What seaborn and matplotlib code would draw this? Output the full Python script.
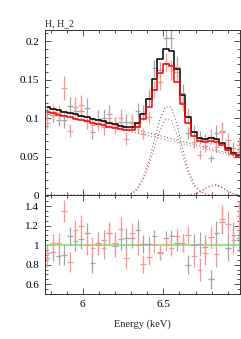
import numpy as np
import matplotlib
matplotlib.use("Agg")
import matplotlib.pyplot as plt
import seaborn as sns
from matplotlib.ticker import MultipleLocator, FormatStrFormatter

# bin centres (keV)
energy = [5.78, 5.815, 5.85, 5.885, 5.92, 5.955, 5.99, 6.025, 6.06, 6.095,
          6.13, 6.165, 6.2, 6.235, 6.27, 6.305, 6.34, 6.375, 6.41, 6.445,
          6.48, 6.515, 6.55, 6.585, 6.62, 6.655, 6.69, 6.725, 6.76, 6.795,
          6.83, 6.865, 6.9, 6.935, 6.97]
half_bin = 0.0175

# model components (counts/s/keV)
cont_black = [0.1140, 0.1122, 0.1104, 0.1085, 0.1067, 0.1049, 0.1031, 0.1013, 0.0994, 0.0976,
              0.0958, 0.0940, 0.0921, 0.0902, 0.0884, 0.0865, 0.0847, 0.0828, 0.0809, 0.0790,
              0.0772, 0.0754, 0.0735, 0.0716, 0.0698, 0.0679, 0.0661, 0.0642, 0.0624, 0.0605,
              0.0587, 0.0568, 0.0550, 0.0531, 0.0513]
cont_red = [0.1080, 0.1063, 0.1046, 0.1029, 0.1011, 0.0994, 0.0977, 0.0960, 0.0943, 0.0926,
            0.0909, 0.0891, 0.0874, 0.0857, 0.0840, 0.0823, 0.0806, 0.0788, 0.0771, 0.0754,
            0.0737, 0.0720, 0.0703, 0.0686, 0.0668, 0.0651, 0.0634, 0.0617, 0.0600, 0.0583,
            0.0566, 0.0548, 0.0531, 0.0514, 0.0497]
fe_black = [0, 0, 0, 0, 0, 0, 0, 0, 0, 0,
            0, 0, 0, 0, 0.0006, 0.0022, 0.0095, 0.0230, 0.0440, 0.0720,
            0.0990, 0.1150, 0.1140, 0.0920, 0.0600, 0.0330, 0.0150, 0.0060, 0.0019, 0.0005,
            0, 0, 0, 0, 0]
fe_red = [0, 0, 0, 0, 0, 0, 0, 0, 0, 0,
          0, 0, 0, 0, 0.0005, 0.0019, 0.0081, 0.0197, 0.0376, 0.0616,
          0.0846, 0.0985, 0.0975, 0.0787, 0.0513, 0.0282, 0.0128, 0.0051, 0.0016, 0.0004,
          0, 0, 0, 0, 0]
ni_black = [0, 0, 0, 0, 0, 0, 0, 0, 0, 0,
            0, 0, 0, 0, 0, 0, 0, 0, 0, 0,
            0, 0, 0, 0, 0.0001, 0.0003, 0.0013, 0.0040, 0.0085, 0.0128,
            0.0138, 0.0106, 0.0058, 0.0022, 0.0006]
ni_red = [0, 0, 0, 0, 0, 0, 0, 0, 0, 0,
          0, 0, 0, 0, 0, 0, 0, 0, 0, 0,
          0, 0, 0, 0, 0.0001, 0.0003, 0.0012, 0.0037, 0.0079, 0.0119,
          0.0128, 0.0099, 0.0054, 0.0020, 0.0006]

# data / model ratios and their errors
ratio_black = [0.92, 0.93, 0.89, 0.90, 1.09, 1.04, 1.06, 1.12, 0.82, 1.02,
               1.05, 1.12, 0.99, 1.06, 1.07, 1.07, 1.16, 1.01, 1.01, 1.09,
               0.92, 1.07, 1.09, 1.02, 1.02, 0.80, 1.00, 1.01, 0.98, 0.65,
               1.12, 1.24, 0.97, 1.10, 1.07]
err_black = [0.08, 0.09, 0.09, 0.10, 0.10, 0.10, 0.10, 0.11, 0.10, 0.11,
             0.11, 0.11, 0.11, 0.11, 0.11, 0.10, 0.10, 0.09, 0.08, 0.07,
             0.07, 0.07, 0.07, 0.08, 0.09, 0.10, 0.11, 0.12, 0.12, 0.10,
             0.13, 0.13, 0.13, 0.14, 0.14]
ratio_red = [0.87, 1.02, 1.02, 1.35, 0.83, 1.15, 1.20, 1.00, 0.97, 1.00,
             0.97, 1.12, 1.02, 1.17, 0.87, 1.12, 1.00, 0.81, 0.88, 1.00,
             0.93, 1.01, 0.97, 1.09, 1.02, 1.10, 0.89, 0.75, 0.92, 1.08,
             0.91, 1.27, 1.22, 1.05, 1.30]
err_red = [0.09, 0.09, 0.10, 0.11, 0.10, 0.11, 0.11, 0.10, 0.11, 0.10,
           0.11, 0.12, 0.11, 0.12, 0.11, 0.11, 0.10, 0.09, 0.08, 0.08,
           0.07, 0.07, 0.08, 0.08, 0.09, 0.10, 0.11, 0.12, 0.12, 0.12,
           0.13, 0.14, 0.13, 0.14, 0.15]

E = np.array(energy)
model_black = np.array(cont_black) + np.array(fe_black) + np.array(ni_black)
model_red = np.array(cont_red) + np.array(fe_red) + np.array(ni_red)
data_black = model_black * np.array(ratio_black)
data_red = model_red * np.array(ratio_red)

sns.set_theme(style="ticks")
plt.rcParams["font.family"] = ["Liberation Serif", "DejaVu Serif"]
plt.rcParams["font.size"] = 8
plt.rcParams["xtick.direction"] = "in"
plt.rcParams["ytick.direction"] = "in"

fig = plt.figure(figsize=(2.41, 3.39), dpi=100)
ax1 = fig.add_axes([0.1855, 0.4239, 0.811, 0.4867])
ax2 = fig.add_axes([0.1855, 0.1327, 0.811, 0.2912], sharex=ax1)

grey = "#a4a4a4"
pink = "#ff9494"

# top panel: data + folded model
ax1.errorbar(E, data_black, xerr=half_bin, yerr=data_black * np.array(err_black),
             fmt="none", ecolor=grey, elinewidth=0.9, capsize=0)
ax1.errorbar(E, data_red, xerr=half_bin, yerr=data_red * np.array(err_red),
             fmt="none", ecolor=pink, elinewidth=0.9, capsize=0)
for comp, col in [(cont_black, "#707070"), (fe_black, "#707070"), (ni_black, "#707070"),
                  (cont_red, "#e46a6a"), (fe_red, "#e46a6a"), (ni_red, "#e46a6a")]:
    sns.lineplot(x=E, y=comp, ax=ax1, color=col, lw=0.8, linestyle=(0, (1, 2)))
sns.lineplot(x=E, y=model_black, ax=ax1, color="black", lw=1.1, drawstyle="steps-mid")
sns.lineplot(x=E, y=model_red, ax=ax1, color="red", lw=1.1, drawstyle="steps-mid")

ax1.set_ylim(0, 0.214)
ax1.yaxis.set_major_locator(MultipleLocator(0.05))
ax1.yaxis.set_minor_locator(MultipleLocator(0.01))
ax1.yaxis.set_major_formatter(FormatStrFormatter("%g"))
ax1.tick_params(labelbottom=False)
ax1.set_ylabel("")
ax1.text(0.0, 1.012, "H, H_2", transform=ax1.transAxes, fontsize=7, ha="left", va="bottom")

# bottom panel: ratio
ax2.axhline(1.0, color="#7cf07c", lw=1.3)
ax2.errorbar(E, ratio_black, xerr=half_bin, yerr=err_black,
             fmt="none", ecolor=grey, elinewidth=0.9, capsize=0)
ax2.errorbar(E, ratio_red, xerr=half_bin, yerr=err_red,
             fmt="none", ecolor=pink, elinewidth=0.9, capsize=0)
ax2.set_ylim(0.5, 1.51)
ax2.yaxis.set_major_locator(MultipleLocator(0.2))
ax2.yaxis.set_minor_locator(MultipleLocator(0.05))
ax2.yaxis.set_major_formatter(FormatStrFormatter("%g"))
ax2.set_xlim(5.764, 6.977)
ax2.xaxis.set_major_locator(MultipleLocator(0.5))
ax2.xaxis.set_minor_locator(MultipleLocator(0.1))
ax2.xaxis.set_major_formatter(FormatStrFormatter("%g"))
ax2.set_xlabel("Energy (keV)", fontsize=7.5, labelpad=8)

for ax in (ax1, ax2):
    ax.tick_params(which="both", top=True, right=True, direction="in", width=0.6,
                   colors="#333333", labelcolor="black", labelsize=8, pad=4)
    ax.tick_params(which="major", length=4)
    ax.tick_params(which="minor", length=2)
    for s in ax.spines.values():
        s.set_linewidth(0.7)
        s.set_color("#333333")

fig.savefig("out.png", dpi=100)
